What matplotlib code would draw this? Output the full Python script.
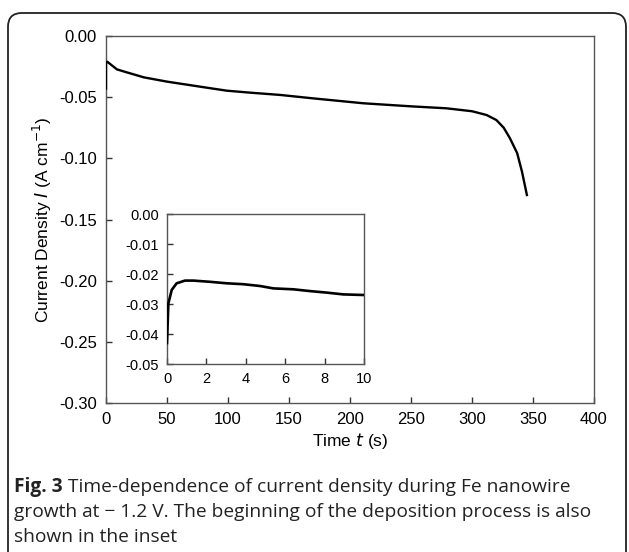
import matplotlib
matplotlib.use("Agg")
import matplotlib.pyplot as plt
from matplotlib.patches import FancyBboxPatch

# Main trace: time (s) and current density (A cm^-1)
time_main = [0, 0, 1, 9, 17, 31, 50, 77, 99, 118, 143, 170, 211, 250, 279,
             300, 312, 320, 326, 331, 337, 341, 345]
current_main = [-0.043, -0.022, -0.021, -0.0273, -0.0297, -0.0338, -0.0373,
                -0.0414, -0.0447, -0.0463, -0.0482, -0.051, -0.055, -0.0575,
                -0.0591, -0.0615, -0.0646, -0.0687, -0.075, -0.0834, -0.0957,
                -0.111, -0.130]

# Inset trace: first 10 s
time_inset = [0.0, 0.07, 0.24, 0.49, 0.91, 1.34, 2.18, 3.03, 3.87, 4.72,
              5.4, 6.41, 7.26, 8.1, 8.95, 9.97]
current_inset = [-0.043, -0.0298, -0.0253, -0.0231, -0.0222, -0.0222,
                 -0.0226, -0.0231, -0.0234, -0.024, -0.0248, -0.0251,
                 -0.0257, -0.0262, -0.0268, -0.027]

main_xticks = [0, 50, 100, 150, 200, 250, 300, 350, 400]
main_yticks = [0.00, -0.05, -0.10, -0.15, -0.20, -0.25, -0.30]
inset_xticks = [0, 2, 4, 6, 8, 10]
inset_yticks = [0.00, -0.01, -0.02, -0.03, -0.04, -0.05]

caption_bold = "Fig. 3"
caption_lines = [" Time-dependence of current density during Fe nanowire",
                 "growth at \u2212 1.2 V. The beginning of the deposition process is also",
                 "shown in the inset"]

W, H = 629, 552
plt.rcParams['font.family'] = ['Liberation Sans', 'DejaVu Sans']
fig = plt.figure(figsize=(W / 100, H / 100), dpi=100)

# rounded frame around figure + caption
frame = FancyBboxPatch((8 / W, -0.05), 618 / W, 1.05 - 13 / H,
                       boxstyle="round,pad=0,rounding_size=0.022",
                       mutation_aspect=W / H, transform=fig.transFigure,
                       fill=False, edgecolor='#222222', linewidth=1.3)
fig.patches.append(frame)

spine_col = '#555555'


def style_axes(ax, fs, pad):
    for side in ['left', 'bottom', 'top', 'right']:
        ax.spines[side].set_color(spine_col)
        ax.spines[side].set_linewidth(1.0)
    ax.tick_params(direction='in', top=False, right=False, length=4,
                   width=1.0, color='#333333', labelsize=fs, pad=pad)


ax = fig.add_axes([106 / W, 1 - 403 / H, 488 / W, 367 / H])
ax.plot(time_main, current_main, color='black', linewidth=1.7, zorder=3)
ax.set_xlim(0, 400)
ax.set_ylim(-0.30, 0.0)
ax.set_xticks(main_xticks)
ax.set_yticks(main_yticks)
ax.set_yticklabels([f"{v:.2f}" for v in main_yticks])
style_axes(ax, 12, 6.5)
ax.set_xlabel("Time $\\it{t}$ (s)", fontsize=12.5, labelpad=3)
ax.set_ylabel("Current Density $\\it{I}$ (A cm$^{-1}$)", fontsize=12.5, labelpad=4)

ins = fig.add_axes([167 / W, 1 - 364 / H, 197 / W, 150 / H])
ins.plot(time_inset, current_inset, color='black', linewidth=1.9, zorder=3)
ins.set_xlim(0, 10)
ins.set_ylim(-0.05, 0.0)
ins.set_xticks(inset_xticks)
ins.set_yticks(inset_yticks)
ins.set_yticklabels([f"{v:.2f}" for v in inset_yticks])
style_axes(ins, 10.5, 6)

# caption with bold prefix
cap_font = ['Open Sans', 'DejaVu Sans']
cap_col = '#222222'
cap_fs = 13.8
x0, y0 = 14 / W, 1 - 487 / H
t_bold = fig.text(x0, y0, caption_bold, fontsize=cap_fs, fontweight='bold',
                  family=cap_font, color=cap_col, va='center')
r = fig.canvas.get_renderer()
bb = t_bold.get_window_extent(renderer=r)
fig.text(bb.x1 / W, y0, caption_lines[0], fontsize=cap_fs, family=cap_font,
         color=cap_col, va='center')
fig.text(x0, 1 - 512 / H, caption_lines[1], fontsize=cap_fs, family=cap_font,
         color=cap_col, va='center')
fig.text(x0, 1 - 537 / H, caption_lines[2], fontsize=cap_fs, family=cap_font,
         color=cap_col, va='center')

fig.savefig("out.png", dpi=100)
